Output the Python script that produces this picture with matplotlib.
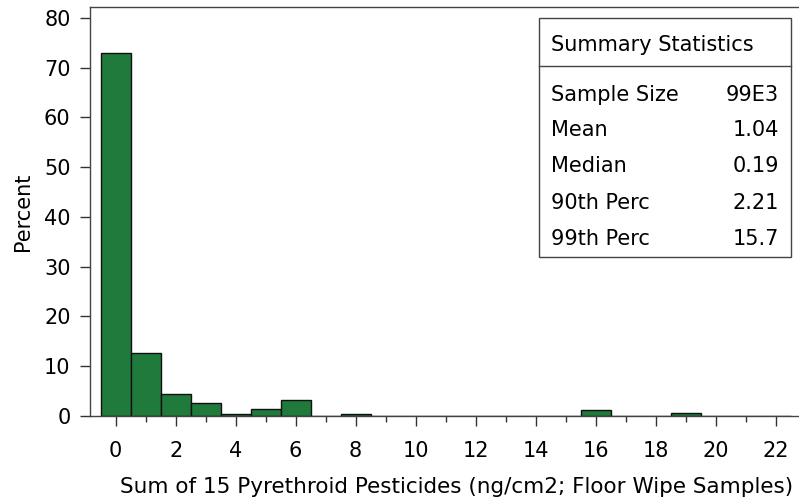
import matplotlib
matplotlib.use("Agg")
import matplotlib.pyplot as plt
from matplotlib.patches import Rectangle
from matplotlib.lines import Line2D

plt.rcParams['font.family'] = ['DejaVu Sans']

# histogram bins (centres) and percent per bin
bin_centers = list(range(0, 23))
percent = [73.0, 12.6, 4.4, 2.6, 0.4, 1.5, 3.2, 0.0, 0.5, 0.0, 0.0, 0.0,
           0.0, 0.0, 0.0, 0.0, 1.2, 0.0, 0.0, 0.65, 0.0, 0.0, 0.1]

x_ticks = list(range(0, 24, 2))
y_ticks = list(range(0, 90, 10))

stat_names = ["Sample Size", "Mean", "Median", "90th Perc", "99th Perc"]
stat_values = ["99E3", "1.04", "0.19", "2.21", "15.7"]

FS = 15

fig = plt.figure(figsize=(7.99, 5.04), dpi=100)
ax = fig.add_axes([90 / 799, 88 / 504, 709 / 799, 409 / 504])

ax.bar(bin_centers, percent, width=1.0, color='#1f7a3b',
       edgecolor='#111111', linewidth=1.0)

ax.set_xlim(-0.857, 22.78)
ax.set_ylim(0, 82.2)
ax.set_xticks(x_ticks)
ax.set_xticks(range(1, 23, 2), minor=True)
ax.set_yticks(y_ticks)
ax.tick_params(axis='both', which='major', labelsize=FS, length=7,
               width=1, color='#333333', pad=7)
ax.tick_params(axis='x', which='major', pad=11)
ax.tick_params(axis='x', which='minor', length=4, width=1, color='#333333')
for s in ['left', 'top', 'bottom']:
    ax.spines[s].set_color('#444444')
    ax.spines[s].set_linewidth(1)
ax.spines['right'].set_visible(False)

ax.set_xlabel("Sum of 15 Pyrethroid Pesticides (ng/cm2; Floor Wipe Samples)",
              fontsize=15.5, va='center')
ax.xaxis.set_label_coords((457 - 90) / 709, -(487 - 416) / 409)
ax.set_ylabel("Percent", fontsize=FS, labelpad=8)

# summary statistics box (figure pixel coords -> fractions)
W, H = 799, 504


def fx(px):
    return px / W


def fy(py):
    return 1 - py / H


fig.patches.append(Rectangle((fx(539), fy(257)), fx(791) - fx(539),
                             fy(18) - fy(257), transform=fig.transFigure,
                             facecolor='white', edgecolor='#444444',
                             linewidth=1, zorder=5))
fig.lines.append(Line2D([fx(539), fx(791)], [fy(66), fy(66)],
                        transform=fig.transFigure, color='#444444',
                        linewidth=1, zorder=6))
fig.text(fx(551), fy(45), "Summary Statistics", fontsize=FS,
         va='center', ha='left', zorder=7)
row_y = [95, 130, 166, 203, 239]
for name, val, yy in zip(stat_names, stat_values, row_y):
    fig.text(fx(551), fy(yy), name, fontsize=FS, va='center', ha='left', zorder=7)
    fig.text(fx(779), fy(yy), val, fontsize=FS, va='center', ha='right', zorder=7)

fig.savefig("out.png", dpi=100)
